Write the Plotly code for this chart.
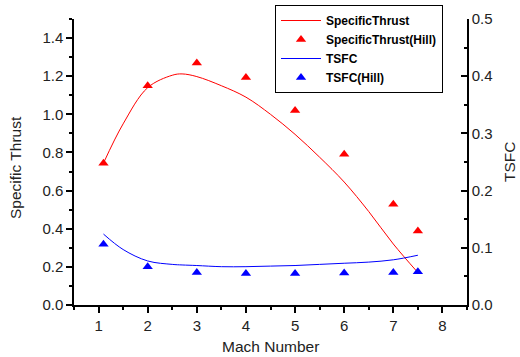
import plotly.graph_objects as go

# Hill data points
mach_pts = [1.1, 2, 3, 4, 5, 6, 7, 7.5]
st_hill = [0.744, 1.15, 1.269, 1.193, 1.02, 0.791, 0.529, 0.388]
tsfc_hill = [0.106, 0.067, 0.057, 0.055, 0.055, 0.056, 0.057, 0.058]

# Model curves
mach_line = [1.1, 1.5, 2.0, 2.5, 2.7, 3.0, 3.5, 4.0, 4.5, 5.0, 5.5, 6.0, 6.5, 7.0, 7.5]
st_line = [0.744, 0.95, 1.14, 1.205, 1.212, 1.198, 1.15, 1.09, 1.0, 0.895, 0.775, 0.645, 0.49, 0.32, 0.17]
tsfc_line = [0.124, 0.097, 0.077, 0.071, 0.070, 0.069, 0.067, 0.067, 0.068, 0.069, 0.071, 0.073, 0.075, 0.079, 0.087]

FONT = "Liberation Sans, Arial, sans-serif"
TICKFONT = dict(family=FONT, size=15, color="#222")
TITLEFONT = dict(family=FONT, size=15.5, color="#222")

fig = go.Figure()
fig.add_trace(go.Scatter(x=mach_line, y=st_line, mode="lines", name="SpecificThrust",
                         line=dict(color="#ff0000", width=1, shape="spline", smoothing=1.0)))
fig.add_trace(go.Scatter(x=mach_pts, y=st_hill, mode="markers", name="SpecificThrust(Hill)",
                         marker=dict(symbol="triangle-up", size=9, color="#ff0000")))
fig.add_trace(go.Scatter(x=mach_line, y=tsfc_line, mode="lines", name="TSFC", yaxis="y2",
                         line=dict(color="#0000ff", width=1, shape="spline", smoothing=1.0)))
fig.add_trace(go.Scatter(x=mach_pts, y=tsfc_hill, mode="markers", name="TSFC(Hill)", yaxis="y2",
                         marker=dict(symbol="triangle-up", size=9, color="#0000ff")))


def ax(dtick, minor_dtick, ticks):
    return dict(showline=True, linecolor="black", linewidth=1.5, ticks=ticks,
                ticklen=6, tickwidth=1.5, tickcolor="black", showgrid=False, zeroline=False,
                tickfont=TICKFONT, automargin=False, dtick=dtick,
                minor=dict(ticks=ticks, ticklen=3, tickwidth=1.5, tickcolor="black",
                           dtick=minor_dtick, showgrid=False))


fig.update_layout(
    width=520, height=357,
    margin=dict(l=74, r=53, t=19, b=52, autoexpand=False),
    paper_bgcolor="white", plot_bgcolor="white",
    font=dict(family=FONT, size=14, color="#222"),
    xaxis=dict(range=[0.5, 8.5], tick0=0, **ax(1, 0.5, "outside")),
    yaxis=dict(range=[0, 1.5], tick0=0, tickformat=".1f", **ax(0.2, 0.1, "outside")),
    yaxis2=dict(range=[0, 0.5], tick0=0, tickformat=".1f", overlaying="y", side="right",
                **ax(0.1, 0.05, "inside")),
    legend=dict(xref="container", yref="container", x=275 / 520, y=1 - 5 / 357,
                xanchor="left", yanchor="top",
                bgcolor="white", bordercolor="black", borderwidth=1,
                font=dict(family=FONT, size=12, color="black", weight="bold"),
                tracegroupgap=0, itemwidth=40, entrywidth=176, entrywidthmode="pixels"),
    showlegend=True,
    annotations=[
        dict(text="Mach Number", xref="paper", yref="paper", x=0.5, y=(305 - 346) / 286,
             xanchor="center", yanchor="middle", showarrow=False, font=TITLEFONT),
        dict(text="Specific Thrust", xref="paper", yref="paper", x=(15 - 74) / 393,
             y=(305 - 167) / 286, xanchor="center", yanchor="middle", textangle=-90,
             showarrow=False, font=TITLEFONT),
        dict(text="TSFC", xref="paper", yref="paper", x=(509 - 74) / 393,
             y=(305 - 162) / 286, xanchor="center", yanchor="middle", textangle=-90,
             showarrow=False, font=TITLEFONT),
    ],
)

fig.write_html("out.html", config={"displayModeBar": False},
               post_script="document.body.style.margin='0';document.body.style.overflow='hidden';")
